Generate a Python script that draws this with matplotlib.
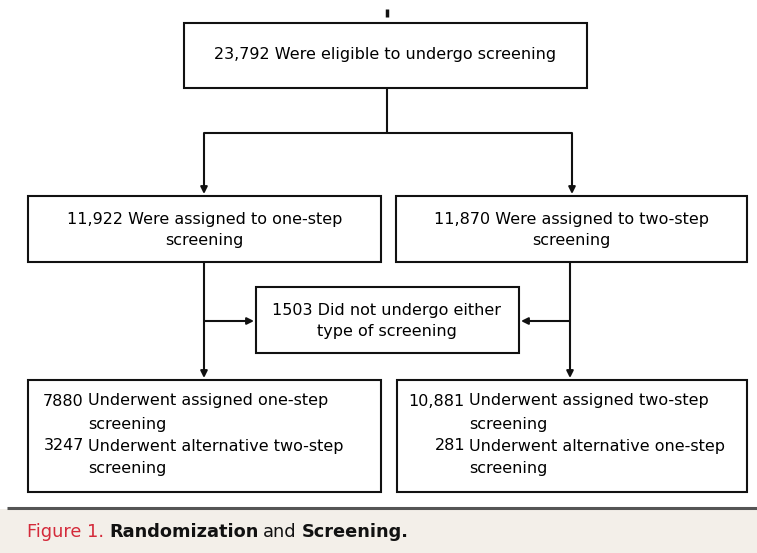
import matplotlib
matplotlib.use("Agg")
import matplotlib.pyplot as plt
from matplotlib.patches import Rectangle

# ---- data ----
eligible = 23792
assigned_counts = [11922, 11870]
assigned_labels = ["Were assigned to one-step\nscreening", "Were assigned to two-step\nscreening"]
not_screened = 1503
underwent_counts = [[7880, 3247], [10881, 281]]
underwent_labels = [["Underwent assigned one-step\nscreening", "Underwent alternative two-step\nscreening"],
                    ["Underwent assigned two-step\nscreening", "Underwent alternative one-step\nscreening"]]
caption = ["Figure 1.", "Randomization", "and", "Screening."]

def fmt(n):
    return f"{n:,}" if n >= 10000 else str(n)

W, H = 757, 553
fig = plt.figure(figsize=(W / 100, H / 100), dpi=100)
ax = fig.add_axes([0, 0, 1, 1])
ax.set_xlim(0, W)
ax.set_ylim(H, 0)
ax.axis("off")

LW = 1.5
FS = 11.5
font = "DejaVu Sans"

def box(x0, y0, x1, y1):
    ax.add_patch(Rectangle((x0, y0), x1 - x0, y1 - y0, fill=False, ec="#111111", lw=LW))

def line(xs, ys, lw=LW):
    ax.plot(xs, ys, color="#111111", lw=lw, solid_capstyle="butt")

def arrow(x0, y0, x1, y1):
    ax.annotate("", xy=(x1, y1), xytext=(x0, y0),
                arrowprops=dict(arrowstyle="-|>", color="#111111", lw=LW,
                                mutation_scale=10, shrinkA=0, shrinkB=0))

# top stub
line([387, 387], [9, 17], lw=2.5)

# top box
box(184, 23, 587, 88)
ax.text(385, 55, f"{fmt(eligible)} Were eligible to undergo screening", ha="center", va="center",
        fontsize=FS, family=font)

# split
line([387, 387], [88, 133])
line([204, 572], [133, 133])
arrow(204, 133, 204, 194)
arrow(572, 133, 572, 194)

# assigned boxes
abox = [(28, 196, 381, 262), (396, 196, 747, 262)]
for (x0, y0, x1, y1), n, lab in zip(abox, assigned_counts, assigned_labels):
    box(x0, y0, x1, y1)
    ax.text((x0 + x1) / 2, (y0 + y1) / 2 + 1, f"{fmt(n)} {lab}", ha="center", va="center",
            fontsize=FS, family=font, linespacing=1.5)

# middle box
box(256, 287, 519, 353)
ax.text(387, 321, f"{fmt(not_screened)} Did not undergo either\ntype of screening", ha="center",
        va="center", fontsize=FS, family=font, linespacing=1.5)

# verticals to bottom
arrow(204, 262, 204, 378)
arrow(570, 262, 570, 378)
arrow(204, 321, 254, 321)
arrow(570, 321, 521, 321)

# bottom boxes
bbox = [(28, 380, 381, 492), (397, 380, 747, 492)]
num_right = [84, 465]
for (x0, y0, x1, y1), nums, labs, xr in zip(bbox, underwent_counts, underwent_labels, num_right):
    box(x0, y0, x1, y1)
    ys = [401, 446]
    for yy, n, lab in zip(ys, nums, labs):
        ax.text(xr, yy, fmt(n), ha="right", va="center", fontsize=FS, family=font)
        l1, l2 = lab.split("\n")
        ax.text(xr + 4, yy, l1, ha="left", va="center", fontsize=FS, family=font)
        ax.text(xr + 4, yy + 23, l2, ha="left", va="center", fontsize=FS, family=font)

# caption area
ax.add_patch(Rectangle((0, 509), W, H - 509, color="#f3efe9", lw=0))
ax.plot([7, W], [508, 508], color="#555555", lw=2.2, solid_capstyle="butt")

fig.canvas.draw()
r = fig.canvas.get_renderer()
x = 27
styles = [("#d42a3a", "normal"), ("#111111", "bold"), ("#111111", "normal"), ("#111111", "bold")]
inv = ax.transData.inverted()
for word, (col, wt) in zip(caption, styles):
    t = ax.text(x, 532, word, ha="left", va="center", fontsize=12.8, color=col, fontweight=wt, family=font)
    bb = t.get_window_extent(renderer=r)
    x1 = inv.transform((bb.x1, 0))[0]
    x = x1 + 5

fig.savefig("out.png", dpi=100)
